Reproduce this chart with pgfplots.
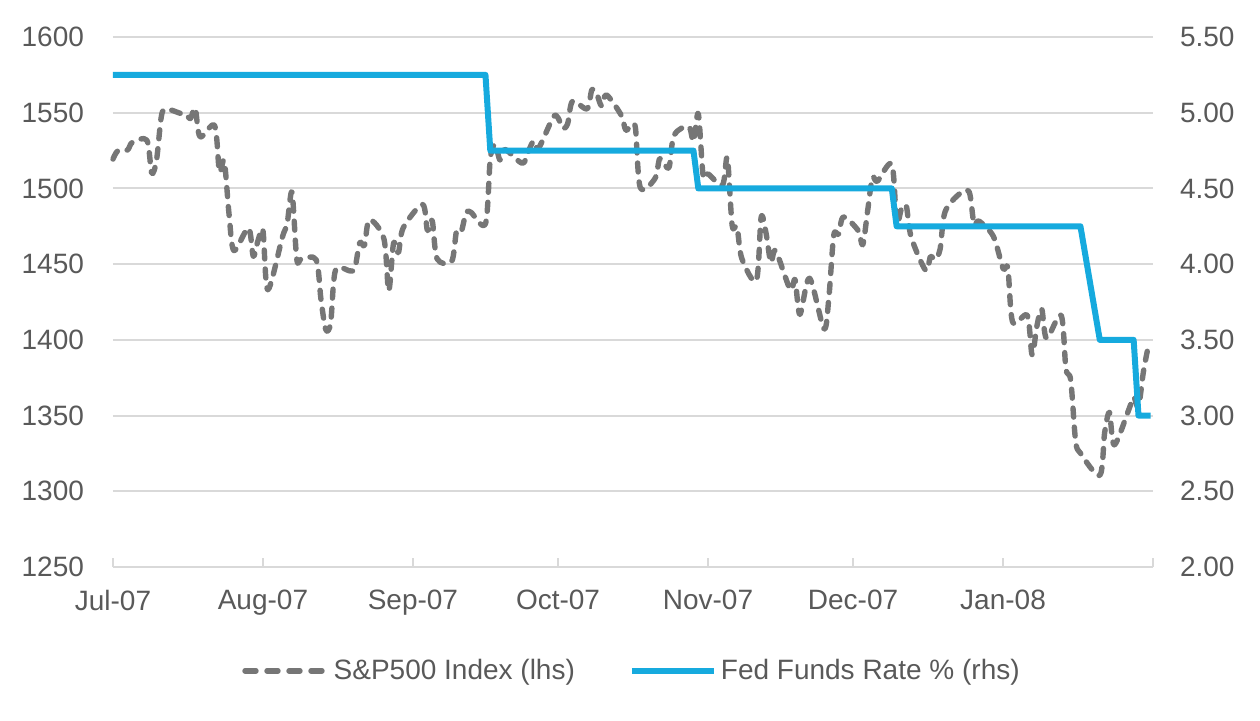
\documentclass[border=0pt]{standalone}
\usepackage{pgfplots}
\pgfplotsset{compat=1.18}
\usepackage{fontspec}
\setmainfont{Liberation Sans}
\definecolor{spgray}{RGB}{118,118,118}
\definecolor{ffblue}{RGB}{22,170,222}
\definecolor{txt}{RGB}{89,89,89}
\definecolor{gridc}{RGB}{217,217,217}

\pgfplotstableread{
x y
0 1519.43
1 1524.87
3 1525.40
4 1530.44
7 1531.85
8 1510.12
9 1518.76
10 1547.70
11 1552.50
14 1549.52
15 1549.37
16 1546.17
17 1553.08
18 1534.10
21 1541.57
22 1511.04
23 1518.09
24 1482.66
25 1458.95
28 1473.91
29 1455.27
30 1465.81
31 1472.20
32 1433.06
35 1467.67
36 1476.71
37 1497.49
38 1453.09
39 1453.64
42 1452.92
43 1426.54
44 1406.70
45 1411.27
46 1445.94
49 1445.55
50 1447.12
51 1464.07
52 1462.50
53 1479.37
56 1466.79
57 1432.36
58 1463.76
59 1457.64
60 1473.99
64 1489.42
65 1472.29
66 1478.55
67 1453.55
70 1451.70
71 1471.49
72 1471.56
73 1483.95
74 1484.25
77 1476.65
78 1519.78
79 1529.03
80 1518.75
81 1525.75
84 1517.73
85 1517.21
86 1525.42
87 1531.38
88 1526.75
91 1547.04
92 1546.63
93 1539.59
94 1542.84
95 1557.59
98 1552.58
99 1565.15
100 1562.47
101 1554.41
102 1561.80
105 1548.71
106 1538.53
107 1541.24
108 1540.08
109 1500.63
112 1506.33
113 1519.59
114 1515.88
115 1514.40
116 1535.28
119 1540.98
120 1531.02
121 1549.38
122 1508.44
123 1509.65
126 1502.17
127 1520.27
128 1475.62
129 1474.77
130 1453.70
133 1439.18
134 1481.05
135 1470.58
136 1451.15
137 1458.74
140 1433.27
141 1439.70
142 1416.77
144 1440.70
147 1407.22
148 1428.23
149 1469.02
150 1469.72
151 1481.14
154 1472.42
155 1462.79
156 1485.01
157 1507.34
158 1504.66
161 1515.96
162 1477.65
163 1486.59
164 1488.41
165 1467.95
168 1445.90
169 1454.98
170 1453.00
171 1460.12
172 1484.46
175 1496.45
177 1497.66
178 1476.27
179 1478.49
182 1468.36
184 1447.16
185 1447.16
186 1411.63
189 1416.18
190 1390.19
191 1409.13
192 1420.33
193 1401.02
196 1416.25
197 1380.95
198 1373.20
199 1333.25
200 1325.19
204 1310.50
205 1338.60
206 1352.07
207 1330.61
210 1353.96
211 1362.30
212 1355.81
213 1378.55
214 1395.42
}\spdata

\pgfplotstableread{
x y
0 5.25
77 5.25
78 4.75
120 4.75
121 4.50
161 4.50
162 4.25
200 4.25
204 3.50
211 3.50
212 3.00
214.5 3.00
}\ffdata

\begin{document}
\begin{tikzpicture}[font=\fontsize{14}{17}\selectfont]
\begin{axis}[
  at={(0,0)}, anchor=south west,
  scale only axis, width=520pt, height=265pt,
  xmin=0, xmax=215, ymin=1250, ymax=1600,
  ytick={1250,1300,...,1600},
  xtick={0,31,62,92,123,153,184,215},
  xticklabels={Jul-07,Aug-07,Sep-07,Oct-07,Nov-07,Dec-07,Jan-08,},
  axis x line*=bottom, axis y line*=left,
  y axis line style={draw=none},
  x axis line style={gridc, line width=1pt},
  ymajorgrids, grid style={gridc, line width=1pt},
  xtick style={gridc, line width=1pt}, tick align=inside, major tick length=4.5pt,
  ytick style={draw=none},
  ticklabel style={text=txt, font=\fontsize{14}{17}\selectfont},
  yticklabel style={xshift=-11pt},
  xticklabel style={yshift=-8pt},
  /pgf/number format/assume math mode=true,
  /pgf/number format/1000 sep={},
  clip=false,
]
\addplot[spgray, line width=2.7pt, dash pattern=on 4.5pt off 5pt, line cap=round, line join=round, smooth, tension=0.5] table[x=x,y=y] {\spdata};
\end{axis}
\begin{axis}[
  at={(0,0)}, anchor=south west,
  scale only axis, width=520pt, height=265pt,
  xmin=0, xmax=215, ymin=2, ymax=5.5,
  ytick={2,2.5,...,5.5},
  axis x line=none, axis y line*=right,
  y axis line style={draw=none},
  ytick style={draw=none},
  ticklabel style={text=txt, font=\fontsize{14}{17}\selectfont},
  yticklabel style={xshift=10pt, /pgf/number format/.cd, fixed, fixed zerofill, precision=2},
  /pgf/number format/assume math mode=true,
  legend style={at={(0.5,-0.196)}, anchor=center, draw=none, fill=none, legend columns=2,
    font=\fontsize{14}{17}\selectfont, text=txt,
    /tikz/every even column/.append style={column sep=25pt}},
  legend image code/.code={\draw[#1] (1pt,0pt) -- (42pt,0pt);},
  clip=false,
]
\addlegendimage{spgray, line width=2.7pt, dash pattern=on 5.5pt off 5.5pt, line cap=round}
\addlegendentry{S\&P500 Index (lhs)}
\addplot[ffblue, line width=3pt, line join=round] table[x=x,y=y] {\ffdata};
\addlegendentry{Fed Funds Rate \% (rhs)}
\end{axis}
\pgfresetboundingbox
\path (-56.5pt,-76.5pt) rectangle (573.5pt,283.5pt);
\end{tikzpicture}
\end{document}
